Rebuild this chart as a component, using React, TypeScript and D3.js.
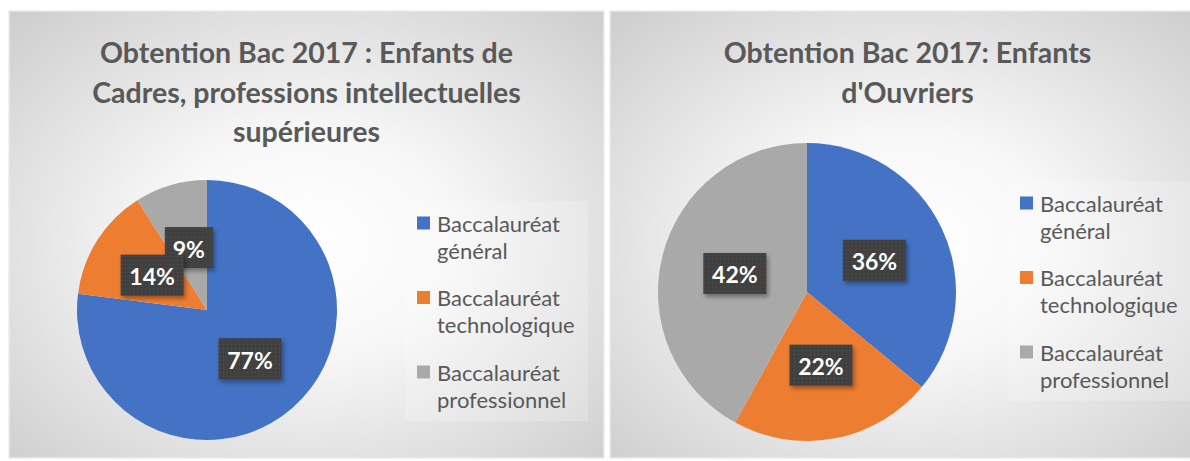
import React from 'react'
import * as d3 from 'd3'

// Obtention du bac 2017 selon l'origine sociale
const categories = ['Baccalauréat général', 'Baccalauréat technologique', 'Baccalauréat professionnel']
const cadresValues = [77, 14, 9]
const ouvriersValues = [36, 22, 42]
const cadresTitle = ['Obtention Bac 2017 : Enfants de', 'Cadres, professions intellectuelles', 'supérieures']
const ouvriersTitle = ['Obtention Bac 2017: Enfants', "d'Ouvriers"]

const colors = ['#4472C4', '#ED7D31', '#A9A9A9']
const FONT = 'Lato, Calibri, "Open Sans", sans-serif'

function PiePanel({ id, x, y, w, h, title, values, cx, cy, r, legendX, legendY }) {
  const pie = d3.pie<number>().sort(null).value(d => d)
  const arcs = pie(values)
  const arc = d3.arc<d3.PieArcDatum<number>>().innerRadius(0).outerRadius(r)
  const color = d3.scaleOrdinal<number, string>().domain([0, 1, 2]).range(colors)
  const total = d3.sum(values)
  const fmt = d3.format('.0%')

  return (
    <g>
      <rect x={x} y={y} width={w} height={h} fill={`url(#bg-${id})`} stroke="#ececec" strokeWidth={1.5} />
      {title.map((t, i) => (
        <text key={i} x={x + w / 2} y={52 + i * 39.5} textAnchor="middle" dominantBaseline="central"
          fontFamily={FONT} fontWeight={700} fontSize={28.5} fill="#595959">{t}</text>
      ))}
      <g transform={`translate(${cx},${cy})`}>
        {arcs.map((a, i) => (
          <path key={i} d={arc(a) || ''} fill={color(i)} />
        ))}
        {/* reversed so the earlier labels sit on top, as in Excel */}
        {arcs.slice().reverse().map((a) => {
          const [lx, ly] = arc.centroid(a)
          const label = fmt(a.data / total)
          const bw = label.length * 15 + 18
          const bh = 41
          return (
            <g key={label} transform={`translate(${lx},${ly})`}>
              <rect x={-bw / 2} y={-bh / 2} width={bw} height={bh} fill="url(#dots)" filter="url(#shadow)" />
              <text x={0} y={1} textAnchor="middle" dominantBaseline="central" fontFamily={FONT}
                fontWeight={700} fontSize={23} fill="#ffffff">{label}</text>
            </g>
          )
        })}
      </g>
      <rect x={legendX - 14} y={legendY - 22} width={183} height={220} fill="#ffffff" opacity={0.2} />
      {categories.map((c, i) => {
        const lines = c.split(' ')
        const ty = legendY + i * 74.5
        return (
          <g key={c}>
            <rect x={legendX - 2} y={ty - 6.5} width={13} height={13} fill={color(i)} />
            {lines.map((l, j) => (
              <text key={j} x={legendX + 18} y={ty + j * 27} dominantBaseline="central"
                fontFamily={FONT} fontSize={22} fill="#595959">{l}</text>
            ))}
          </g>
        )
      })}
    </g>
  )
}

export default function App() {
  return (
    <svg width={1190} height={461} style={{ position: 'absolute', left: 0, top: 0, background: '#fff' }}>
      <defs>
        {['a', 'b'].map(k => (
          <radialGradient key={k} id={`bg-${k}`} cx="50%" cy="52%" r="72%">
            <stop offset="0%" stopColor="#ffffff" />
            <stop offset="35%" stopColor="#f7f7f7" />
            <stop offset="100%" stopColor="#cdcdcd" />
          </radialGradient>
        ))}
        <pattern id="dots" width={4} height={4} patternUnits="userSpaceOnUse">
          <rect width={4} height={4} fill="#3f3f3f" />
          <rect x={1} y={1} width={1} height={1} fill="#575757" />
        </pattern>
        <filter id="shadow" x="-20%" y="-20%" width="150%" height="160%">
          <feDropShadow dx={2} dy={3} stdDeviation={2} floodColor="#000" floodOpacity={0.35} />
        </filter>
      </defs>
      <PiePanel id="a" x={9} y={11} w={595} h={447} title={cadresTitle} values={cadresValues}
        cx={207} cy={310} r={130} legendX={419} legendY={223} />
      <PiePanel id="b" x={610} y={11} w={595} h={447} title={ouvriersTitle} values={ouvriersValues}
        cx={807} cy={292} r={149} legendX={1022} legendY={203} />
    </svg>
  )
}
